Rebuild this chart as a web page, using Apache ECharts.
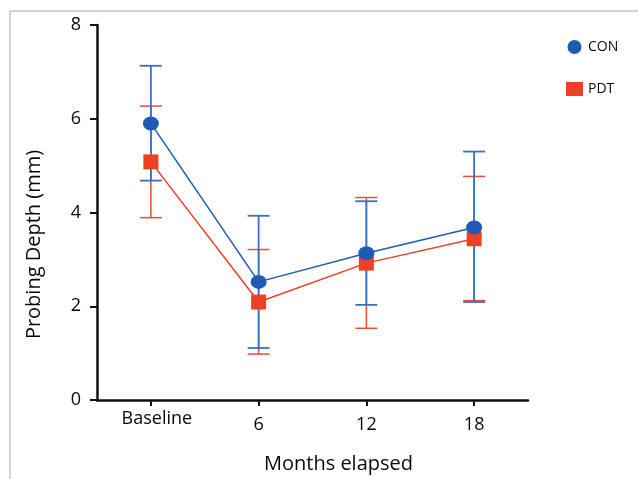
<!DOCTYPE html>
<html><head><meta charset="utf-8">
<script src="https://cdn.jsdelivr.net/npm/echarts@6/dist/echarts.min.js"></script>
<style>html,body{margin:0;padding:0;background:#fff}#c{width:638px;height:479px}</style>
</head><body><div id="c"></div>
<script>
var categories = ['Baseline', '6', '12', '18'];
var yTicks = [0, 2, 4, 6, 8];
var conMean  = [5.90, 2.52, 3.13, 3.68];
var conUpper = [7.13, 3.93, 4.24, 5.30];
var conLower = [4.68, 1.11, 2.03, 2.09];
var pdtMean  = [5.08, 2.09, 2.92, 3.44];
var pdtUpper = [6.27, 3.21, 4.32, 4.77];
var pdtLower = [3.89, 0.98, 1.53, 2.12];

var BLUE = '#1f5bb2', BLUE_BAR = '#3c6fc0', RED = '#ee4026', RED_BAR = '#ee4a35';
var FONT = 'Open Sans';
var TXT = '#0a0a0a';

function errData(up, lo) { return categories.map(function (c, i) { return [i, lo[i], up[i]]; }); }
function errRender(color, w) {
  return function (params, api) {
    var x = api.value(0);
    var lo = api.coord([x, api.value(1)]);
    var hi = api.coord([x, api.value(2)]);
    var hw = 11;
    var st = { stroke: color, lineWidth: w };
    return { type: 'group', children: [
      { type: 'line', shape: { x1: lo[0], y1: lo[1], x2: hi[0], y2: hi[1] }, style: st },
      { type: 'line', shape: { x1: lo[0] - hw, y1: lo[1], x2: lo[0] + hw, y2: lo[1] }, style: st },
      { type: 'line', shape: { x1: hi[0] - hw, y1: hi[1], x2: hi[0] + hw, y2: hi[1] }, style: st }
    ]};
  };
}

var chart = echarts.init(document.getElementById('c'), null, { renderer: 'canvas' });
chart.setOption({
  animation: false,
  backgroundColor: '#fff',
  textStyle: { fontFamily: FONT },
  graphic: [
    { type: 'polyline', shape: { points: [[10, 479], [10, 11], [638, 11]] }, style: { stroke: '#c4c4c4', lineWidth: 1.5, fill: null } }
  ],
  legend: {
    orient: 'vertical', left: 561, top: 35, itemGap: 28, itemWidth: 17, itemHeight: 14,
    textStyle: { fontFamily: FONT, fontSize: 14, color: TXT },
    data: [{ name: 'CON', icon: 'circle' }, { name: 'PDT', icon: 'rect' }]
  },
  grid: { left: 97, right: 110, top: 25, bottom: 76, containLabel: false },
  xAxis: {
    type: 'category', data: categories, boundaryGap: true,
    name: 'Months elapsed', nameLocation: 'middle', nameGap: 54,
    nameTextStyle: { fontFamily: FONT, fontSize: 20, color: TXT, padding: [0, 0, 0, 52] },
    axisLine: { lineStyle: { color: '#111', width: 2.5 } },
    axisTick: { show: true, interval: 0, alignWithLabel: true, length: 6, lineStyle: { color: '#111', width: 2 } },
    axisLabel: { interval: 0, hideOverlap: false, margin: 10, fontFamily: FONT, fontSize: 18, color: TXT,
      formatter: function (v) { return v === categories[0] ? '{b|' + v + '}' : '{n|' + v + '}'; },
      rich: {
        b: { fontFamily: FONT, fontSize: 18, color: TXT, padding: [0, 0, 0, 12] },
        n: { fontFamily: FONT, fontSize: 18, color: TXT, padding: [6, 0, 0, 0] }
      } },
    splitLine: { show: false }
  },
  yAxis: {
    type: 'value', min: 0, max: 8, interval: 2,
    name: 'Probing Depth (mm)', nameLocation: 'middle', nameGap: 53, nameRotate: 90,
    nameTextStyle: { fontFamily: FONT, fontSize: 20, color: TXT, padding: [0, 64, 0, 0] },
    axisLine: { show: true, lineStyle: { color: '#111', width: 2.5 } },
    axisTick: { show: true, length: 7, lineStyle: { color: '#111', width: 2 } },
    axisLabel: { margin: 16, fontFamily: FONT, fontSize: 18, color: TXT,
      formatter: function (v) { return yTicks.indexOf(v) >= 0 ? String(v) : ''; } },
    splitLine: { show: false }
  },
  series: [
    { type: 'custom', name: 'PDT', data: errData(pdtUpper, pdtLower), renderItem: errRender(RED_BAR, 1.5), z: 2, itemStyle: { color: RED } },
    { type: 'custom', name: 'CON', data: errData(conUpper, conLower), renderItem: errRender(BLUE_BAR, 1.8), z: 3, itemStyle: { color: BLUE } },
    { type: 'line', name: 'PDT', data: pdtMean, symbol: 'rect', symbolSize: [15, 15],
      lineStyle: { color: RED, width: 1.5 }, itemStyle: { color: RED }, z: 4 },
    { type: 'line', name: 'CON', data: conMean, symbol: 'circle', symbolSize: [16, 14],
      lineStyle: { color: BLUE, width: 1.5 }, itemStyle: { color: BLUE }, z: 5 }
  ]
});
</script></body></html>
